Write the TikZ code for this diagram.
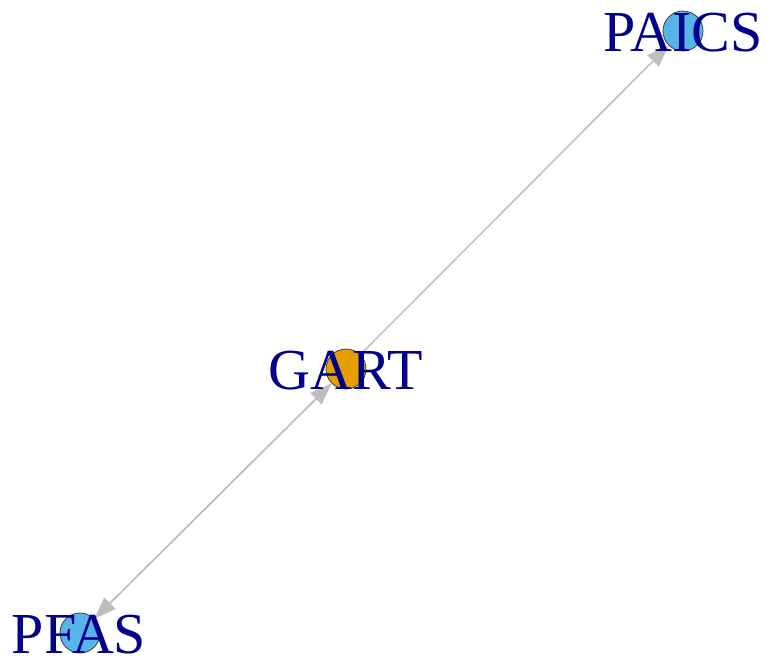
\documentclass[tikz,border=0pt]{standalone}
\usepackage{fontspec}
\setmainfont{Liberation Serif}
\usetikzlibrary{arrows.meta}
\definecolor{navylab}{RGB}{0,0,139}
\definecolor{edgegray}{RGB}{190,190,190}
\definecolor{vorange}{RGB}{230,159,0}
\definecolor{vblue}{RGB}{86,180,233}
\begin{document}
\begin{tikzpicture}[x=1pt,y=-1pt,
  vert/.style={circle,draw=black!75,line width=0.8pt,minimum size=40pt,inner sep=0pt},
  lab/.style={text=navylab,font=\fontsize{58}{62}\selectfont,inner sep=0pt},
  edg/.style={draw=edgegray,line width=1.5pt,-{Triangle[length=22pt,width=16pt,fill=edgegray]}}]
\useasboundingbox (0,0) rectangle (767,662);
\node[vert,fill=vblue] (paics) at (683,31) {};
\node[vert,fill=vorange] (gart) at (346,369) {};
\node[vert,fill=vblue] (pfas) at (80,633) {};
\draw[edg] (gart) -- (paics);
\draw[edg] (gart) -- (pfas);
\draw[edg] (pfas) -- (gart);
\node[lab] (paicsl) at (683,33) {PAICS};
\node[lab] (gartl) at (346,371) {GART};
\node[lab] (pfasl) at (79,635) {PFAS};
\end{tikzpicture}
\end{document}
